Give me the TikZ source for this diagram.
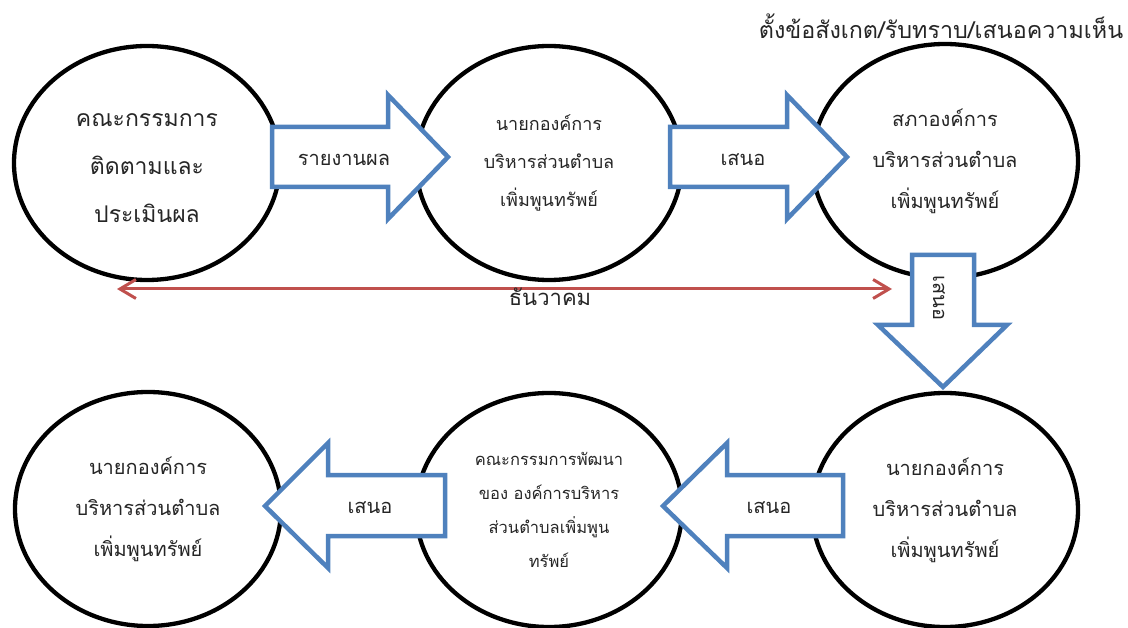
\documentclass[tikz,border=0pt]{standalone}
\usepackage{fontspec}
\newfontfamily\thaifont[Script=Thai]{Loma}
\usetikzlibrary{shapes.geometric,arrows.meta}
\definecolor{arrowblue}{HTML}{4F81BD}
\definecolor{linered}{HTML}{C0504D}
\begin{document}
\begin{tikzpicture}[x=1pt,y=-1pt,
  oval/.style={ellipse, draw=black, line width=4.3pt, fill=white, minimum width=266pt, minimum height=234pt, align=center, inner sep=0pt, text=black!85},
  blockarrow/.style={draw=arrowblue, line width=4.5pt, fill=white, line join=miter},
  lbl/.style={text=black!85, inner sep=0pt, font=\thaifont\fontsize{20}{24}\selectfont}
]
\useasboundingbox (0,0) rectangle (1128,628);
% ellipses
\node[oval] (e1) at (147,163) {};
\node[lbl, align=center, font=\thaifont\fontsize{23}{48}\selectfont] (t1) at ([yshift=-5pt]e1.center) {คณะกรรมการ\\ติดตามและ\\ประเมินผล};
\node[oval, font=\thaifont\fontsize{18}{38}\selectfont] (e2) at (549,163) {นายกองค์การ\\บริหารส่วนตำบล\\เพิ่มพูนทรัพย์};
\node[oval, font=\thaifont\fontsize{20}{41}\selectfont] (e3) at (945,161) {สภาองค์การ\\บริหารส่วนตำบล\\เพิ่มพูนทรัพย์};
\node[oval, font=\thaifont\fontsize{20}{41}\selectfont] (e4) at (148,509) {นายกองค์การ\\บริหารส่วนตำบล\\เพิ่มพูนทรัพย์};
\node[oval, font=\thaifont\fontsize{16.5}{34}\selectfont] (e5) at (549,510) {คณะกรรมการพัฒนา\\ของ องค์การบริหาร\\ส่วนตำบลเพิ่มพูน\\ทรัพย์};
\node[oval, font=\thaifont\fontsize{20}{41}\selectfont] (e6) at (945,510) {นายกองค์การ\\บริหารส่วนตำบล\\เพิ่มพูนทรัพย์};
% block arrows
\draw[blockarrow] (272,127) -- (388,127) -- (388,95) -- (448,157) -- (388,219) -- (388,187) -- (272,187) -- cycle;
\node[lbl] (a1) at (344,160) {รายงานผล};
\draw[blockarrow] (670,127) -- (787,127) -- (787,95) -- (847,157) -- (787,219) -- (787,187) -- (670,187) -- cycle;
\node[lbl] (a2) at (743,160) {เสนอ};
\draw[blockarrow] (912,255) -- (974,255) -- (974,325) -- (1007,325) -- (943,387) -- (878,325) -- (912,325) -- cycle;
\node[lbl, rotate=-90] (a3) at (939,298) {เสนอ};
\draw[blockarrow] (265,506) -- (328,443) -- (328,475) -- (445,475) -- (445,536) -- (328,536) -- (328,568) -- cycle;
\node[lbl] (a4) at (370,508) {เสนอ};
\draw[blockarrow] (663,506) -- (727,443) -- (727,475) -- (843,475) -- (843,536) -- (727,536) -- (727,568) -- cycle;
\node[lbl] (a5) at (769,508) {เสนอ};
% red timeline
\coordinate (rl) at (117,289);
\coordinate (rr) at (892,289);
\draw[linered, line width=3pt, {Straight Barb[length=16pt,width=19pt]}-{Straight Barb[length=16pt,width=19pt]}] (rl) -- (rr);
\node[lbl, font=\thaifont\fontsize{22}{26}\selectfont] (month) at (550,297) {ธันวาคม};
% title
\node[lbl, font=\thaifont\fontsize{23.3}{28}\selectfont] (title) at (941,26) {ตั้งข้อสังเกต/รับทราบ/เสนอความเห็น};
\end{tikzpicture}
\end{document}
